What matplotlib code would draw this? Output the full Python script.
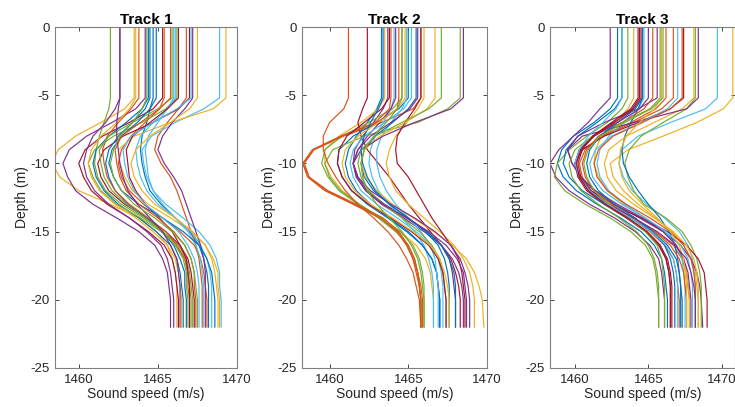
import matplotlib
matplotlib.use("Agg")
import matplotlib.pyplot as plt

plt.rcParams["font.family"] = ["Liberation Sans", "DejaVu Sans"]
plt.rcParams["axes.unicode_minus"] = False

# MATLAB default line order
LINE_COLORS = ["#0072BD", "#D95319", "#EDB120", "#7E2F8E", "#77AC30", "#4DBEEE", "#A2142F"]

TITLES = ["Track 1", "Track 2", "Track 3"]
X_TICKS = [1460, 1465, 1470]
Y_TICKS = [0, -5, -10, -15, -20, -25]

# depth of every profile sample (m)
DEPTHS = [0, -5.2, -6, -7, -8, -9, -10, -11, -12, -13, -14, -15, -16, -17, -18, -19, -20, -22]

# sound speed (m/s) per profile, one row per cast, sampled at DEPTHS
TRACK1 = [
    [1464.7, 1464.7, 1464.5, 1464.3, 1464.0, 1463.9, 1464.0, 1464.2, 1464.5, 1465.2, 1466.1, 1467.0, 1467.6, 1467.9, 1468.1, 1468.2, 1468.2, 1468.2],
    [1466.8, 1466.8, 1466.3, 1465.6, 1465.0, 1464.8, 1465.2, 1465.8, 1466.2, 1466.5, 1466.8, 1467.1, 1467.4, 1467.6, 1467.7, 1467.8, 1467.8, 1467.8],
    [1463.5, 1463.5, 1462.9, 1461.4, 1459.8, 1458.7, 1458.3, 1458.8, 1460.0, 1462.0, 1463.8, 1464.9, 1465.6, 1465.9, 1466.1, 1466.2, 1466.2, 1466.2],
    [1464.2, 1464.2, 1463.6, 1462.1, 1460.5, 1459.4, 1459.0, 1459.3, 1459.8, 1460.9, 1462.4, 1463.8, 1464.8, 1465.3, 1465.6, 1465.7, 1465.8, 1465.8],
    [1462.0, 1462.0, 1461.9, 1461.6, 1461.3, 1461.1, 1461.0, 1461.2, 1461.7, 1462.7, 1464.1, 1465.3, 1466.3, 1466.8, 1467.0, 1467.1, 1467.2, 1467.2],
    [1468.9, 1468.9, 1467.9, 1466.1, 1464.6, 1464.0, 1464.1, 1464.3, 1464.7, 1465.5, 1466.6, 1467.6, 1468.3, 1468.7, 1468.9, 1468.9, 1469.0, 1469.0],
    [1465.3, 1465.3, 1464.7, 1463.2, 1461.5, 1460.4, 1460.0, 1460.3, 1460.8, 1461.8, 1463.2, 1464.4, 1465.4, 1465.9, 1466.1, 1466.2, 1466.3, 1466.3],
    [1464.4, 1464.4, 1464.0, 1463.0, 1461.9, 1461.1, 1460.9, 1461.1, 1461.6, 1462.5, 1463.8, 1464.9, 1465.8, 1466.2, 1466.4, 1466.5, 1466.6, 1466.6],
    [1465.4, 1465.4, 1465.1, 1464.2, 1463.3, 1462.7, 1462.5, 1462.7, 1463.2, 1464.1, 1465.3, 1466.4, 1467.3, 1467.7, 1467.9, 1468.0, 1468.1, 1468.1],
    [1469.3, 1469.3, 1468.5, 1465.8, 1463.5, 1462.5, 1462.6, 1462.9, 1463.4, 1464.4, 1465.8, 1467.1, 1468.0, 1468.5, 1468.8, 1468.8, 1468.9, 1468.9],
    [1462.6, 1462.6, 1462.3, 1461.7, 1460.9, 1460.5, 1460.3, 1460.5, 1461.0, 1461.9, 1463.2, 1464.3, 1465.2, 1465.6, 1465.8, 1465.9, 1466.0, 1466.0],
    [1466.2, 1466.2, 1465.5, 1464.0, 1462.2, 1461.0, 1460.6, 1460.9, 1461.4, 1462.4, 1463.9, 1465.2, 1466.1, 1466.7, 1466.9, 1467.0, 1467.1, 1467.1],
    [1466.1, 1466.1, 1465.6, 1464.7, 1463.9, 1463.6, 1463.7, 1463.9, 1464.3, 1465.0, 1466.1, 1467.1, 1467.7, 1468.1, 1468.3, 1468.4, 1468.4, 1468.4],
    [1467.0, 1467.0, 1466.3, 1464.7, 1462.8, 1461.6, 1461.2, 1461.4, 1461.9, 1462.9, 1464.3, 1465.5, 1466.4, 1466.9, 1467.1, 1467.2, 1467.3, 1467.3],
    [1464.5, 1464.5, 1464.2, 1463.4, 1462.5, 1461.9, 1461.7, 1461.9, 1462.3, 1463.1, 1464.3, 1465.3, 1466.0, 1466.4, 1466.7, 1466.7, 1466.8, 1466.8],
    [1463.8, 1463.8, 1463.3, 1462.5, 1461.8, 1461.5, 1461.6, 1461.8, 1462.3, 1463.2, 1464.4, 1465.5, 1466.2, 1466.7, 1466.9, 1466.9, 1467.0, 1467.0],
    [1463.6, 1463.6, 1463.2, 1462.4, 1461.4, 1460.8, 1460.6, 1460.8, 1461.3, 1462.3, 1463.6, 1464.7, 1465.6, 1466.1, 1466.3, 1466.4, 1466.5, 1466.5],
    [1467.2, 1467.2, 1466.7, 1465.9, 1465.3, 1465.0, 1465.4, 1466.0, 1466.5, 1466.8, 1467.1, 1467.4, 1467.7, 1467.9, 1468.0, 1468.0, 1468.0, 1468.0],
    [1465.9, 1465.9, 1465.0, 1463.4, 1461.9, 1461.3, 1461.4, 1461.6, 1462.1, 1463.0, 1464.2, 1465.3, 1466.1, 1466.6, 1466.8, 1466.8, 1466.9, 1466.9],
    [1466.0, 1466.0, 1465.6, 1465.0, 1464.4, 1464.2, 1464.3, 1464.4, 1464.7, 1465.3, 1466.1, 1466.9, 1467.4, 1467.7, 1467.8, 1467.9, 1467.9, 1467.9],
    [1466.3, 1466.3, 1465.6, 1464.5, 1463.4, 1463.0, 1463.1, 1463.2, 1463.6, 1464.2, 1465.1, 1465.9, 1466.4, 1466.8, 1466.9, 1467.0, 1467.0, 1467.0],
    [1464.9, 1464.9, 1464.5, 1463.7, 1462.7, 1462.1, 1461.9, 1462.2, 1462.7, 1463.8, 1465.3, 1466.6, 1467.6, 1468.1, 1468.4, 1468.5, 1468.6, 1468.6],
    [1465.8, 1465.8, 1465.1, 1463.9, 1462.7, 1462.3, 1462.4, 1462.6, 1463.0, 1463.8, 1465.0, 1466.0, 1466.7, 1467.1, 1467.3, 1467.3, 1467.4, 1467.4],
    [1467.5, 1467.5, 1467.0, 1465.8, 1464.5, 1463.6, 1463.3, 1463.5, 1464.0, 1464.8, 1466.1, 1467.2, 1468.0, 1468.4, 1468.6, 1468.7, 1468.8, 1468.8],
    [1462.6, 1462.6, 1462.5, 1462.4, 1462.4, 1462.5, 1462.6, 1462.8, 1463.1, 1463.7, 1464.5, 1465.3, 1465.8, 1466.2, 1466.3, 1466.4, 1466.4, 1466.4],
    [1464.3, 1464.3, 1464.0, 1463.4, 1462.6, 1462.2, 1462.0, 1462.2, 1462.7, 1463.5, 1464.8, 1465.9, 1466.7, 1467.1, 1467.3, 1467.4, 1467.5, 1467.5],
    [1467.1, 1467.1, 1466.2, 1464.7, 1463.3, 1462.8, 1462.9, 1463.1, 1463.5, 1464.2, 1465.3, 1466.3, 1466.9, 1467.3, 1467.5, 1467.6, 1467.6, 1467.6],
]

TRACK2 = [
    [1463.3, 1463.3, 1463.0, 1462.4, 1461.7, 1461.2, 1461.0, 1461.2, 1461.7, 1462.6, 1463.8, 1465.0, 1465.9, 1466.5, 1466.8, 1466.9, 1467.0, 1467.0],
    [1465.8, 1465.8, 1465.3, 1463.3, 1460.9, 1459.0, 1458.4, 1458.7, 1459.8, 1461.6, 1463.3, 1464.3, 1464.9, 1465.3, 1465.5, 1465.7, 1465.8, 1465.8],
    [1463.5, 1463.5, 1463.1, 1462.0, 1460.6, 1459.7, 1459.7, 1460.1, 1460.8, 1461.9, 1463.2, 1464.5, 1465.5, 1466.1, 1466.4, 1466.5, 1466.6, 1466.6],
    [1463.7, 1463.7, 1463.4, 1462.8, 1462.1, 1461.6, 1461.5, 1461.8, 1462.4, 1463.5, 1464.9, 1466.2, 1467.1, 1467.6, 1467.8, 1467.9, 1468.0, 1468.0],
    [1464.6, 1464.6, 1464.0, 1462.5, 1460.8, 1459.7, 1459.5, 1459.9, 1460.6, 1461.8, 1463.1, 1464.2, 1465.0, 1465.4, 1465.6, 1465.7, 1465.8, 1465.8],
    [1464.1, 1464.1, 1463.9, 1463.4, 1462.9, 1462.6, 1462.5, 1462.7, 1463.1, 1463.8, 1464.6, 1465.4, 1466.0, 1466.3, 1466.5, 1466.6, 1466.6, 1466.6],
    [1462.4, 1462.4, 1462.1, 1461.8, 1462.0, 1462.4, 1463.1, 1463.8, 1464.4, 1465.0, 1465.7, 1466.4, 1467.1, 1467.7, 1468.0, 1468.2, 1468.3, 1468.3],
    [1465.0, 1465.0, 1464.4, 1463.0, 1461.5, 1460.6, 1460.5, 1460.8, 1461.4, 1462.4, 1463.7, 1464.9, 1465.9, 1466.5, 1466.8, 1466.9, 1467.0, 1467.0],
    [1464.4, 1464.4, 1464.3, 1463.0, 1460.8, 1459.0, 1458.3, 1458.6, 1459.7, 1461.5, 1463.2, 1464.3, 1464.9, 1465.3, 1465.6, 1465.7, 1465.8, 1465.8],
    [1466.0, 1466.0, 1465.6, 1464.9, 1464.2, 1463.8, 1463.6, 1463.8, 1464.2, 1465.0, 1466.0, 1467.0, 1467.9, 1468.5, 1468.9, 1469.1, 1469.2, 1469.2],
    [1464.2, 1464.2, 1463.9, 1463.2, 1462.4, 1461.8, 1461.5, 1461.7, 1462.3, 1463.3, 1464.7, 1466.0, 1467.1, 1467.8, 1468.2, 1468.4, 1468.5, 1468.5],
    [1468.3, 1468.3, 1467.5, 1465.6, 1462.2, 1460.2, 1459.7, 1460.0, 1460.7, 1461.9, 1463.3, 1464.5, 1465.3, 1465.7, 1465.9, 1466.0, 1466.0, 1466.0],
    [1464.9, 1464.9, 1464.6, 1463.9, 1463.3, 1463.0, 1463.0, 1463.2, 1463.6, 1464.2, 1465.0, 1465.8, 1466.4, 1466.7, 1466.8, 1466.9, 1466.9, 1466.9],
    [1465.8, 1465.8, 1465.4, 1464.8, 1464.3, 1464.2, 1464.3, 1465.0, 1465.5, 1466.0, 1466.5, 1467.1, 1467.7, 1468.2, 1468.4, 1468.5, 1468.6, 1468.6],
    [1465.5, 1465.5, 1465.0, 1464.0, 1462.9, 1462.2, 1462.0, 1462.2, 1462.8, 1463.8, 1465.0, 1466.2, 1467.1, 1467.6, 1467.9, 1468.0, 1468.0, 1468.0],
    [1463.9, 1463.9, 1463.8, 1462.9, 1460.7, 1458.9, 1458.3, 1458.7, 1459.9, 1461.7, 1463.4, 1464.4, 1465.0, 1465.4, 1465.6, 1465.8, 1465.9, 1465.9],
    [1466.7, 1466.7, 1466.2, 1464.8, 1463.2, 1462.2, 1462.0, 1462.3, 1463.0, 1464.0, 1465.3, 1466.6, 1467.8, 1468.7, 1469.2, 1469.5, 1469.7, 1469.8],
    [1468.5, 1468.5, 1467.7, 1465.4, 1463.4, 1462.0, 1461.5, 1461.8, 1462.6, 1463.9, 1465.4, 1466.7, 1467.7, 1468.3, 1468.6, 1468.8, 1468.9, 1468.9],
    [1467.1, 1467.1, 1466.3, 1464.6, 1462.9, 1462.0, 1461.8, 1462.0, 1462.5, 1463.4, 1464.6, 1465.7, 1466.5, 1467.0, 1467.2, 1467.3, 1467.4, 1467.4],
    [1465.2, 1465.2, 1464.7, 1463.5, 1462.2, 1461.5, 1461.3, 1461.5, 1462.0, 1463.0, 1464.3, 1465.5, 1466.4, 1466.9, 1467.1, 1467.2, 1467.2, 1467.2],
    [1463.8, 1463.8, 1463.3, 1462.2, 1461.1, 1460.6, 1460.5, 1460.8, 1461.4, 1462.5, 1463.9, 1465.2, 1466.3, 1466.9, 1467.2, 1467.3, 1467.4, 1467.4],
    [1463.4, 1463.4, 1463.1, 1462.6, 1462.2, 1462.0, 1462.1, 1462.4, 1462.9, 1463.8, 1465.0, 1466.1, 1466.9, 1467.3, 1467.5, 1467.6, 1467.6, 1467.6],
    [1461.2, 1461.2, 1460.9, 1460.0, 1459.6, 1459.6, 1459.9, 1460.4, 1461.0, 1461.8, 1462.8, 1463.7, 1464.4, 1464.9, 1465.3, 1465.5, 1465.7, 1465.8],
    [1464.8, 1464.8, 1464.3, 1463.1, 1461.8, 1461.0, 1460.8, 1461.0, 1461.6, 1462.6, 1464.0, 1465.3, 1466.4, 1467.0, 1467.3, 1467.5, 1467.6, 1467.6],
    [1465.6, 1465.6, 1465.1, 1463.9, 1462.6, 1461.8, 1461.5, 1461.7, 1462.3, 1463.4, 1464.9, 1466.3, 1467.4, 1468.1, 1468.5, 1468.6, 1468.7, 1468.7],
    [1464.6, 1464.6, 1464.3, 1463.6, 1462.8, 1462.2, 1462.0, 1462.1, 1462.4, 1463.0, 1463.8, 1464.6, 1465.2, 1465.6, 1465.8, 1465.9, 1466.0, 1466.0],
]

TRACK3 = [
    [1462.9, 1462.9, 1462.4, 1461.3, 1459.9, 1459.1, 1458.8, 1459.2, 1460.1, 1461.5, 1463.1, 1464.5, 1465.4, 1465.9, 1466.1, 1466.2, 1466.3, 1466.3],
    [1466.7, 1466.7, 1465.9, 1464.0, 1461.9, 1460.5, 1460.0, 1460.3, 1461.0, 1462.3, 1464.0, 1465.5, 1466.7, 1467.3, 1467.6, 1467.7, 1467.8, 1467.8],
    [1470.75, 1470.75, 1470.1, 1468.3, 1466.0, 1463.6, 1462.4, 1462.6, 1463.3, 1464.3, 1465.5, 1466.6, 1467.4, 1467.9, 1468.2, 1468.3, 1468.4, 1468.4],
    [1462.4, 1462.4, 1461.7, 1460.9, 1459.9, 1458.9, 1458.3, 1458.7, 1459.6, 1461.0, 1462.7, 1464.1, 1465.1, 1465.7, 1465.9, 1466.0, 1466.1, 1466.1],
    [1463.6, 1463.6, 1463.2, 1462.2, 1460.8, 1459.6, 1458.8, 1458.6, 1459.3, 1460.7, 1462.4, 1463.8, 1464.8, 1465.3, 1465.5, 1465.6, 1465.7, 1465.7],
    [1469.7, 1469.7, 1468.9, 1466.5, 1464.3, 1463.2, 1463.0, 1463.3, 1463.9, 1464.9, 1466.1, 1467.1, 1467.7, 1468.0, 1468.1, 1468.2, 1468.2, 1468.2],
    [1464.4, 1464.4, 1463.9, 1462.6, 1461.2, 1460.3, 1460.0, 1460.2, 1460.8, 1462.0, 1463.5, 1464.8, 1465.7, 1466.2, 1466.4, 1466.5, 1466.5, 1466.5],
    [1463.2, 1463.2, 1462.7, 1461.5, 1460.2, 1459.4, 1459.2, 1459.6, 1460.5, 1462.0, 1463.8, 1465.3, 1466.3, 1466.9, 1467.1, 1467.2, 1467.3, 1467.3],
    [1466.2, 1466.2, 1465.5, 1463.8, 1461.8, 1460.7, 1460.3, 1460.5, 1461.1, 1462.3, 1463.8, 1465.1, 1466.1, 1466.7, 1466.9, 1467.0, 1467.1, 1467.1],
    [1464.0, 1464.0, 1463.6, 1462.7, 1461.8, 1461.4, 1461.3, 1461.6, 1462.2, 1463.3, 1464.7, 1466.0, 1466.9, 1467.4, 1467.6, 1467.7, 1467.8, 1467.8],
    [1465.6, 1465.6, 1464.3, 1462.0, 1460.2, 1459.5, 1459.8, 1460.4, 1461.3, 1462.7, 1464.4, 1466.0, 1467.2, 1467.9, 1468.3, 1468.5, 1468.6, 1468.7],
    [1468.2, 1468.2, 1467.6, 1466.0, 1464.5, 1463.7, 1463.4, 1463.6, 1464.0, 1464.7, 1466.2, 1467.3, 1467.9, 1468.3, 1468.5, 1468.6, 1468.6, 1468.6],
    [1464.7, 1464.7, 1464.3, 1463.3, 1462.3, 1461.7, 1461.5, 1461.7, 1462.3, 1463.4, 1464.8, 1466.1, 1466.9, 1467.3, 1467.4, 1467.5, 1467.5, 1467.5],
    [1467.4, 1467.4, 1466.5, 1464.3, 1462.0, 1460.5, 1460.0, 1460.3, 1461.1, 1462.6, 1464.5, 1466.3, 1467.6, 1468.4, 1468.8, 1468.9, 1469.0, 1469.0],
    [1464.6, 1464.6, 1464.3, 1463.8, 1463.4, 1463.2, 1463.3, 1463.7, 1464.3, 1465.0, 1465.8, 1466.4, 1466.8, 1467.0, 1467.1, 1467.2, 1467.2, 1467.2],
    [1465.3, 1465.3, 1464.7, 1463.2, 1461.6, 1460.8, 1460.5, 1460.7, 1461.3, 1462.5, 1464.0, 1465.4, 1466.5, 1467.1, 1467.4, 1467.5, 1467.6, 1467.6],
    [1468.1, 1468.1, 1467.3, 1465.4, 1463.5, 1462.3, 1462.0, 1462.2, 1462.8, 1464.0, 1465.4, 1466.7, 1467.6, 1468.1, 1468.3, 1468.4, 1468.4, 1468.4],
    [1468.4, 1468.4, 1467.6, 1464.0, 1460.5, 1459.5, 1459.8, 1460.4, 1461.4, 1462.9, 1464.6, 1466.0, 1466.9, 1467.4, 1467.7, 1467.8, 1467.9, 1467.9],
    [1465.8, 1465.8, 1465.1, 1463.2, 1461.2, 1460.0, 1459.6, 1459.8, 1460.4, 1461.6, 1463.0, 1464.2, 1465.0, 1465.4, 1465.6, 1465.7, 1465.7, 1465.7],
    [1467.0, 1467.0, 1466.3, 1464.5, 1462.5, 1461.4, 1461.0, 1461.2, 1461.9, 1463.2, 1464.8, 1466.2, 1467.2, 1467.7, 1467.9, 1468.0, 1468.0, 1468.0],
    [1464.3, 1464.3, 1463.8, 1462.5, 1461.2, 1460.5, 1460.2, 1460.4, 1461.0, 1462.1, 1463.6, 1464.9, 1465.8, 1466.2, 1466.4, 1466.5, 1466.5, 1466.5],
    [1464.6, 1464.6, 1464.1, 1462.9, 1461.7, 1461.0, 1460.8, 1461.0, 1461.6, 1462.7, 1464.1, 1465.3, 1466.1, 1466.5, 1466.7, 1466.8, 1466.8, 1466.8],
    [1467.3, 1467.3, 1466.5, 1464.6, 1462.6, 1461.6, 1461.3, 1461.5, 1462.2, 1463.5, 1465.1, 1466.5, 1467.4, 1467.9, 1468.1, 1468.2, 1468.2, 1468.2],
    [1465.9, 1465.9, 1465.4, 1464.4, 1463.5, 1463.1, 1463.0, 1463.2, 1463.7, 1464.6, 1465.6, 1466.5, 1467.1, 1467.4, 1467.5, 1467.6, 1467.6, 1467.6],
    [1465.0, 1465.0, 1464.4, 1462.9, 1461.3, 1460.3, 1460.0, 1460.3, 1461.0, 1462.3, 1464.0, 1465.6, 1466.8, 1467.6, 1467.9, 1468.1, 1468.2, 1468.2],
    [1466.0, 1466.0, 1465.2, 1463.4, 1461.7, 1460.9, 1460.6, 1460.8, 1461.3, 1462.3, 1463.6, 1464.8, 1465.6, 1465.9, 1466.0, 1466.1, 1466.1, 1466.1],
    [1463.2, 1463.2, 1462.8, 1461.9, 1460.9, 1460.3, 1460.0, 1460.3, 1461.0, 1462.2, 1463.8, 1465.2, 1466.2, 1466.7, 1466.9, 1467.0, 1467.0, 1467.0],
    [1464.5, 1464.5, 1464.0, 1462.7, 1461.3, 1460.4, 1460.1, 1460.3, 1460.9, 1462.1, 1463.6, 1464.9, 1465.8, 1466.3, 1466.5, 1466.6, 1466.6, 1466.6],
]

TRACKS = [TRACK1, TRACK2, TRACK3]
X_LIMITS = [(1458.5, 1470.0), (1458.25, 1470.0), (1458.3, 1470.9)]
# axes boxes in figure pixels: left, right
AX_PX = [(55, 237), (302, 487), (550, 735)]

W, H = 735, 407
TOP, BOTTOM = 27, 368


def main():
    fig = plt.figure(figsize=(W / 100, H / 100), dpi=100)
    for k, (title, profiles) in enumerate(zip(TITLES, TRACKS)):
        left, right = AX_PX[k]
        ax = fig.add_axes([left / W, 1 - BOTTOM / H, (right - left) / W, (BOTTOM - TOP) / H])
        for i, speeds in enumerate(profiles):
            ax.plot(speeds, DEPTHS, color=LINE_COLORS[i % len(LINE_COLORS)], lw=0.85)

        ax.set_xlim(*X_LIMITS[k])
        ax.set_ylim(-25, 0)
        ax.set_xticks(X_TICKS)
        ax.set_yticks(Y_TICKS)
        ax.tick_params(direction="in", length=3, width=0.6, top=True, right=True,
                       labelsize=9.5, colors="#262626", pad=4)
        for spine in ax.spines.values():
            spine.set_color("#808080")
            spine.set_linewidth(0.8)
        ax.set_title(title, fontsize=11, fontweight="bold", pad=2)
        ax.set_xlabel("Sound speed (m/s)", fontsize=10, color="#262626", labelpad=1)
        ax.set_ylabel("Depth (m)", fontsize=10, color="#262626", labelpad=1)

    fig.savefig("out.png", dpi=100, facecolor="white")


if __name__ == "__main__":
    main()
